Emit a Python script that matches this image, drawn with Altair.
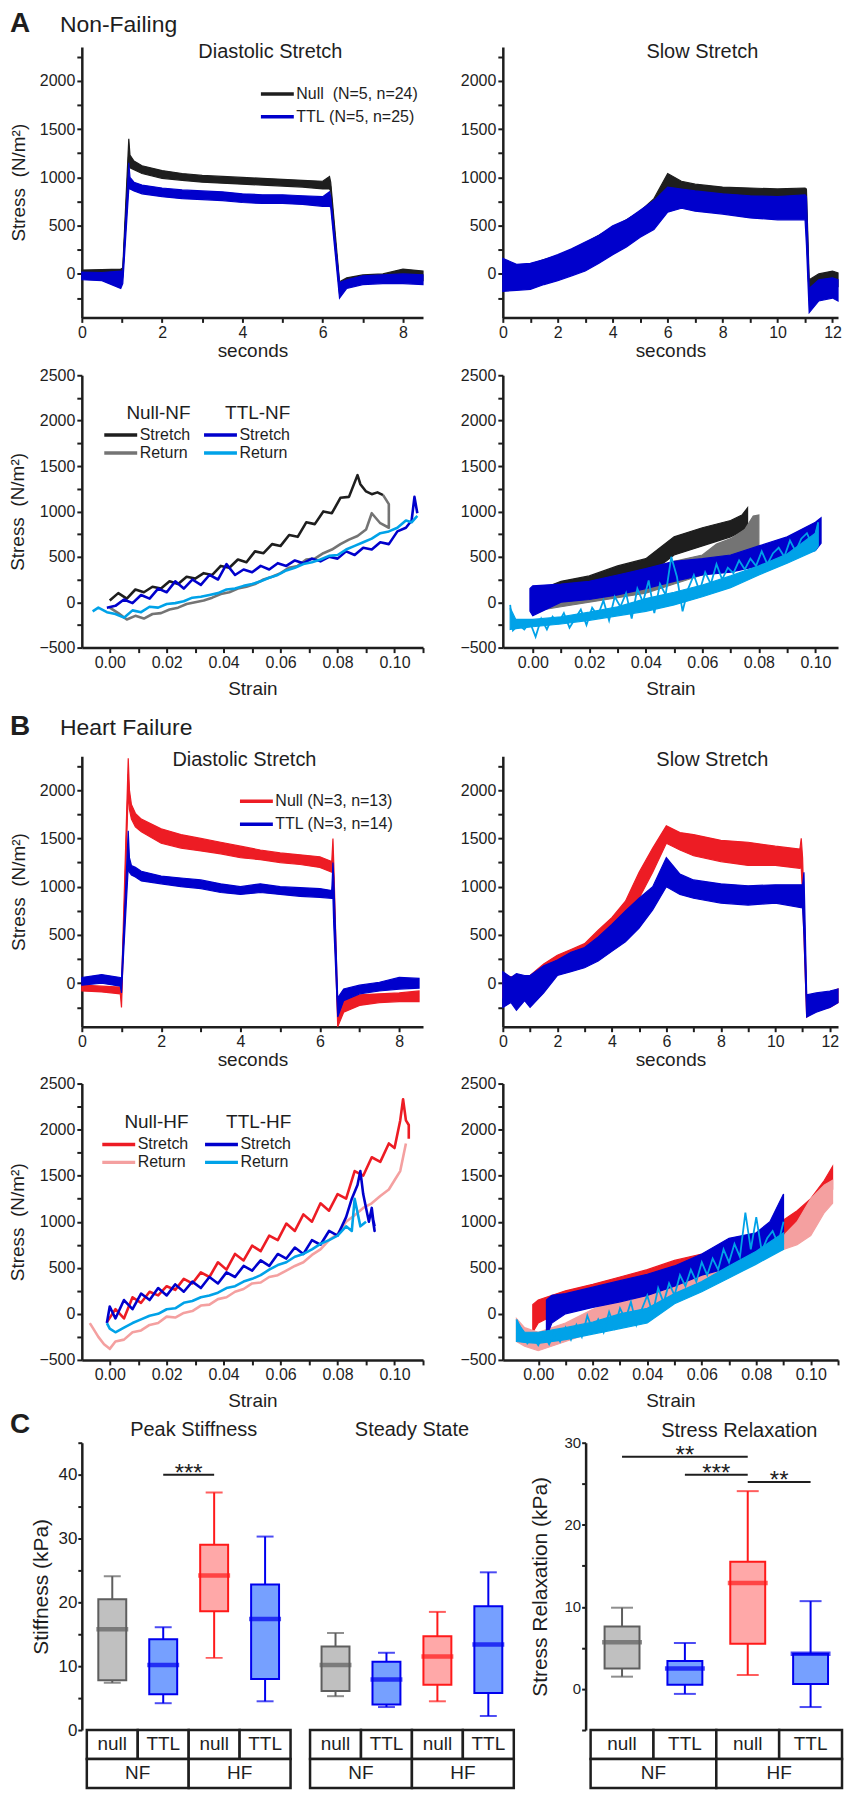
import altair as alt
import pandas as pd

FONT = "Liberation Sans"
INK = "#1e1e1e"
GREY_RET = "#747474"
BLUE = "#0000cc"
LBLUE = "#00a2e8"
RED = "#ed1c24"
PINK = "#f4a0a0"

# ================= DATA =================
# ---- A: Non-Failing, diastolic stretch: stress vs time (noise envelope lo/hi) ----
A_dia_t = [0, 0.5, 0.97, 1.02, 1.17, 1.2, 1.3, 1.5, 2, 2.5, 3, 3.5, 4, 4.5, 5, 5.5, 6, 6.17, 6.2, 6.42, 6.6, 7, 7.5, 8, 8.5]
A_dia_null_lo = [-20, -30, -20, -10, 1150, 1100, 1080, 1040, 990, 970, 950, 940, 930, 920, 910, 900, 880, 880, 860, -200, -120, -90, -80, -60, -70]
A_dia_null_hi = [40, 45, 50, 60, 1400, 1230, 1170, 1120, 1070, 1040, 1020, 1010, 1000, 990, 980, 970, 960, 1010, 950, -80, -40, -10, 0, 50, 30]
A_dia_ttl_lo = [-60, -70, -150, -100, 880, 880, 860, 830, 800, 780, 770, 760, 740, 730, 730, 720, 700, 700, 690, -250, -150, -110, -100, -100, -110]
A_dia_ttl_hi = [20, 15, 30, 30, 1150, 1000, 950, 920, 890, 870, 860, 850, 830, 820, 820, 810, 800, 850, 800, -90, -60, -20, -10, 0, -10]

# ---- A: Non-Failing, slow stretch: stress vs time ----
A_slow_t = [0, 0.5, 1, 1.5, 2, 2.5, 3, 3.5, 4, 4.5, 5, 5.5, 6, 6.5, 7, 8, 9, 10, 11, 11.05, 11.15, 11.5, 12, 12.2]
A_slow_null_lo = [-80, -70, -60, -30, 0, 50, 100, 180, 270, 350, 450, 560, 700, 820, 800, 780, 770, 770, 770, 500, -250, -150, -120, -130]
A_slow_null_hi = [100, 90, 100, 150, 190, 250, 320, 400, 480, 560, 650, 780, 1040, 960, 930, 900, 890, 880, 890, 880, -60, 0, 30, 10]
A_slow_ttl_lo = [-180, -170, -160, -110, -70, -20, 30, 110, 200, 280, 380, 460, 640, 680, 650, 620, 580, 560, 560, 300, -400, -280, -250, -280]
A_slow_ttl_hi = [160, 100, 110, 150, 200, 260, 330, 400, 500, 560, 660, 760, 900, 880, 860, 830, 810, 800, 820, 800, -150, -60, -40, -60]

# ---- A: Non-Failing, diastolic stretch loops: stress vs strain ----
A_loop_null_s_x = [0.0, 0.003, 0.006, 0.009, 0.012, 0.015, 0.018, 0.021, 0.024, 0.027, 0.030, 0.033, 0.036, 0.039, 0.042, 0.045, 0.048, 0.051, 0.054, 0.057, 0.060, 0.063, 0.066, 0.069, 0.072, 0.075, 0.078, 0.081, 0.084, 0.087, 0.088, 0.090, 0.092, 0.094, 0.096]
A_loop_null_s_y = [20, 100, 40, 140, 110, 170, 150, 230, 200, 280, 260, 320, 300, 400, 380, 470, 440, 560, 540, 640, 620, 740, 720, 880, 860, 1000, 980, 1150, 1160, 1400, 1300, 1220, 1190, 1210, 1180]
A_loop_null_r_x = [0.096, 0.098, 0.098, 0.095, 0.092, 0.090, 0.087, 0.084, 0.081, 0.078, 0.075, 0.072, 0.069, 0.066, 0.063, 0.060, 0.057, 0.054, 0.051, 0.048, 0.045, 0.042, 0.039, 0.036, 0.033, 0.030, 0.027, 0.024, 0.021, 0.018, 0.015, 0.012, 0.009, 0.006, 0.003, 0.0]
A_loop_null_r_y = [1180, 1080, 820, 870, 980, 800, 730, 690, 640, 580, 540, 480, 470, 400, 380, 320, 280, 250, 200, 170, 150, 110, 90, 50, 20, 0, -20, -60, -80, -120, -130, -180, -150, -190, -120, -60]
A_loop_ttl_s_x = [-0.001, 0.002, 0.005, 0.008, 0.011, 0.014, 0.017, 0.020, 0.023, 0.026, 0.029, 0.032, 0.035, 0.038, 0.041, 0.044, 0.047, 0.050, 0.053, 0.056, 0.059, 0.062, 0.065, 0.068, 0.071, 0.074, 0.077, 0.080, 0.083, 0.086, 0.089, 0.092, 0.095, 0.098, 0.101, 0.104, 0.106, 0.107, 0.108]
A_loop_ttl_s_y = [-60, -40, 30, -10, 80, 40, 150, 110, 230, 150, 250, 190, 300, 250, 420, 300, 360, 330, 400, 360, 430, 400, 460, 430, 480, 450, 500, 480, 560, 520, 600, 580, 660, 640, 780, 820, 900, 1160, 980]
A_loop_ttl_r_x = [0.108, 0.106, 0.104, 0.101, 0.098, 0.095, 0.092, 0.089, 0.086, 0.083, 0.080, 0.077, 0.074, 0.071, 0.068, 0.065, 0.062, 0.059, 0.056, 0.053, 0.050, 0.047, 0.044, 0.041, 0.038, 0.035, 0.032, 0.029, 0.026, 0.023, 0.020, 0.017, 0.014, 0.011, 0.008, 0.005, 0.002, -0.001, -0.004, -0.006]
A_loop_ttl_r_y = [950, 880, 900, 820, 780, 760, 700, 660, 620, 580, 520, 510, 470, 440, 420, 380, 350, 300, 270, 230, 200, 180, 150, 140, 100, 80, 60, 50, 10, -10, -20, -60, -50, -110, -90, -170, -130, -110, -60, -100]

# ---- A: Non-Failing, slow stretch loops: stress vs strain ----
A_sl_null_s_x = [0.0, 0.005, 0.01, 0.02, 0.03, 0.04, 0.045, 0.05, 0.06, 0.07, 0.074, 0.076]
A_sl_null_s_lo = [-120, 0, 60, 120, 180, 260, 400, 520, 620, 720, 780, 850]
A_sl_null_s_hi = [160, 170, 230, 290, 400, 480, 600, 720, 820, 900, 960, 1040]
A_sl_null_r_x = [0.0, 0.01, 0.02, 0.03, 0.04, 0.05, 0.06, 0.065, 0.07, 0.075, 0.078, 0.08]
A_sl_null_r_lo = [-100, -50, 0, 50, 100, 200, 300, 350, 420, 500, 580, 600]
A_sl_null_r_hi = [100, 150, 200, 250, 350, 450, 520, 640, 700, 800, 950, 960]
A_sl_ttl_s_x = [-0.001, 0.0, 0.01, 0.02, 0.03, 0.04, 0.05, 0.06, 0.07, 0.08, 0.09, 0.1, 0.102]
A_sl_ttl_s_lo = [-100, -150, 0, 30, 80, 150, 230, 300, 330, 400, 480, 570, 650]
A_sl_ttl_s_hi = [150, 180, 200, 230, 300, 370, 450, 480, 520, 620, 720, 880, 930]
A_sl_ttl_r_x = [-0.008, -0.006, 0.0, 0.01, 0.02, 0.03, 0.04, 0.05, 0.06, 0.07, 0.08, 0.09, 0.1, 0.101]
A_sl_ttl_r_lo = [-300, -290, -270, -240, -200, -150, -100, -30, 60, 160, 300, 430, 570, 620]
A_sl_ttl_r_hi = [-60, -190, -190, -160, -110, -50, 40, 110, 190, 290, 400, 530, 760, 860]
A_sl_ttl_rj_x = [0.101, 0.099, 0.097, 0.095, 0.093, 0.091, 0.089, 0.087, 0.085, 0.083, 0.081, 0.079, 0.077, 0.075, 0.073, 0.071, 0.069, 0.067, 0.065, 0.063, 0.061, 0.059, 0.057, 0.055, 0.053, 0.051, 0.049, 0.047, 0.045, 0.043, 0.041, 0.039, 0.037, 0.035, 0.033, 0.031, 0.029, 0.027, 0.025, 0.023, 0.021, 0.019, 0.017, 0.015, 0.013, 0.011, 0.009, 0.007, 0.005, 0.003, 0.001, -0.001, -0.003, -0.005, -0.007, -0.008]
A_sl_ttl_rj_y = [880, 620, 760, 700, 560, 680, 500, 600, 540, 420, 560, 400, 480, 360, 460, 320, 380, 250, 420, 200, 330, 120, 300, 150, -100, 280, 500, 80, 200, -120, 240, 0, 150, -180, 100, -50, 60, -200, 20, -150, -60, -250, -80, -180, -280, -120, -230, -160, -300, -180, -380, -220, -300, -250, -310, -30]

# ---- B: Heart Failure, diastolic stretch: stress vs time ----
B_dia_t = [0, 0.5, 0.97, 1.0, 1.17, 1.2, 1.25, 1.35, 1.5, 2, 2.5, 3, 3.5, 4, 4.5, 5, 5.5, 6, 6.3, 6.33, 6.35, 6.45, 6.6, 7, 7.5, 8, 8.5]
B_dia_null_lo = [-80, -90, -110, -250, 2000, 1800, 1700, 1620, 1570, 1450, 1400, 1370, 1340, 1300, 1280, 1250, 1230, 1200, 1150, 1150, 900, -450, -300, -230, -200, -190, -190]
B_dia_null_hi = [-20, -30, -40, -40, 2330, 2000, 1850, 1760, 1700, 1600, 1540, 1500, 1460, 1420, 1380, 1350, 1330, 1310, 1260, 1500, 1250, -250, -180, -120, -110, -100, -80]
B_dia_ttl_lo = [-20, 0, -30, -100, 1200, 1150, 1120, 1100, 1060, 1030, 1000, 980, 940, 920, 940, 920, 900, 890, 880, 880, 600, -350, -180, -110, -80, -60, -50]
B_dia_ttl_hi = [60, 90, 60, 50, 1580, 1300, 1220, 1200, 1160, 1110, 1090, 1070, 1030, 1000, 1030, 1000, 990, 980, 960, 1250, 1100, -150, -60, -20, 10, 60, 50]

# ---- B: Heart Failure, slow stretch: stress vs time ----
B_slow_null_t = [0, 0.5, 1, 1.5, 2, 2.5, 3, 3.5, 4, 4.5, 5, 5.5, 6, 6.5, 7, 8, 9, 10, 10.9, 10.95, 11.0, 11.15, 11.5, 12, 12.3]
B_slow_null_lo = [-150, -120, -100, -20, 170, 220, 270, 380, 470, 650, 880, 1150, 1450, 1380, 1320, 1260, 1220, 1220, 1190, 1200, 900, -350, -280, -250, -200]
B_slow_null_hi = [80, 60, 80, 200, 290, 350, 410, 550, 680, 850, 1150, 1400, 1630, 1560, 1540, 1480, 1460, 1420, 1390, 1500, 1300, -150, -130, -100, -60]
B_slow_ttl_t = [0, 0.3, 0.5, 0.8, 1, 1.5, 2, 2.5, 3, 3.5, 4, 4.5, 5, 5.5, 6, 6.5, 7, 8, 9, 10, 11, 11.05, 11.15, 11.5, 12, 12.3]
B_slow_ttl_lo = [-250, -200, -280, -180, -250, -100, 80, 120, 160, 230, 330, 430, 570, 760, 1000, 920, 880, 830, 810, 830, 780, 500, -350, -300, -250, -200]
B_slow_ttl_hi = [120, 60, 100, 80, 80, 180, 240, 320, 370, 480, 610, 750, 880, 1000, 1300, 1130, 1070, 1030, 1010, 1020, 1020, 1150, -120, -100, -80, -60]

# ---- B: Heart Failure, diastolic stretch loops: stress vs strain ----
B_loop_null_s_x = [-0.001, 0.002, 0.005, 0.008, 0.011, 0.014, 0.017, 0.020, 0.023, 0.026, 0.029, 0.032, 0.035, 0.038, 0.041, 0.044, 0.047, 0.050, 0.053, 0.056, 0.059, 0.062, 0.065, 0.068, 0.071, 0.074, 0.077, 0.080, 0.083, 0.086, 0.089, 0.092, 0.095, 0.098, 0.100, 0.102, 0.103, 0.104, 0.105, 0.105]
B_loop_null_s_y = [-90, 50, -50, 180, 120, 240, 200, 300, 260, 380, 330, 450, 400, 560, 480, 650, 580, 740, 680, 850, 800, 980, 900, 1080, 1000, 1200, 1120, 1300, 1250, 1550, 1500, 1700, 1650, 1850, 1800, 2100, 2330, 2100, 2050, 1900]
B_loop_null_r_x = [0.104, 0.103, 0.102, 0.100, 0.098, 0.095, 0.092, 0.089, 0.086, 0.083, 0.080, 0.077, 0.074, 0.071, 0.068, 0.065, 0.062, 0.059, 0.056, 0.053, 0.050, 0.047, 0.044, 0.041, 0.038, 0.035, 0.032, 0.029, 0.026, 0.023, 0.020, 0.017, 0.014, 0.011, 0.008, 0.005, 0.002, 0.000, -0.002, -0.004, -0.006, -0.007]
B_loop_null_r_y = [1850, 1700, 1550, 1450, 1350, 1280, 1200, 1150, 1070, 1000, 870, 800, 700, 640, 560, 520, 470, 420, 400, 340, 330, 270, 240, 180, 160, 100, 90, 30, 10, -40, -30, -100, -120, -180, -200, -280, -300, -380, -330, -250, -150, -100]
B_loop_ttl_s_x = [-0.001, 0.000, 0.002, 0.005, 0.008, 0.011, 0.014, 0.017, 0.020, 0.023, 0.026, 0.029, 0.032, 0.035, 0.038, 0.041, 0.044, 0.047, 0.050, 0.053, 0.056, 0.059, 0.062, 0.065, 0.068, 0.071, 0.074, 0.077, 0.080, 0.083, 0.085, 0.087, 0.088, 0.089, 0.090, 0.091, 0.092, 0.093, 0.092, 0.093]
B_loop_ttl_s_y = [-100, 80, -50, 150, 50, 220, 150, 280, 200, 320, 240, 350, 280, 400, 330, 450, 400, 520, 470, 580, 520, 650, 600, 720, 650, 800, 750, 900, 850, 1050, 1250, 1400, 1550, 1300, 1150, 1000, 1150, 900, 1100, 950]
B_loop_ttl_r_x = [0.090, 0.088, 0.086, 0.085, 0.083, 0.080, 0.077, 0.074, 0.071, 0.068, 0.065, 0.062, 0.059, 0.056, 0.053, 0.050, 0.047, 0.044, 0.041, 0.038, 0.035, 0.032, 0.029, 0.026, 0.023, 0.020, 0.017, 0.014, 0.011, 0.008, 0.005, 0.002, 0.000, -0.001]
B_loop_ttl_r_y = [1000, 950, 1250, 900, 950, 850, 800, 760, 700, 650, 620, 560, 530, 480, 420, 380, 350, 300, 280, 230, 200, 180, 140, 120, 60, 50, 0, -20, -60, -100, -150, -200, -160, -100]

# ---- B: Heart Failure, slow stretch loops: stress vs strain ----
B_sl_null_s_x = [-0.002, 0.0, 0.01, 0.02, 0.03, 0.04, 0.05, 0.06, 0.07, 0.08, 0.09, 0.095, 0.1, 0.105, 0.108]
B_sl_null_s_lo = [-200, -100, 50, 100, 200, 280, 380, 450, 530, 650, 800, 950, 1050, 1250, 1350]
B_sl_null_s_hi = [100, 150, 250, 320, 400, 480, 580, 650, 730, 830, 1020, 1120, 1250, 1450, 1600]
B_sl_null_r_x = [-0.008, -0.005, 0.0, 0.01, 0.02, 0.03, 0.04, 0.05, 0.06, 0.07, 0.08, 0.085, 0.09, 0.095, 0.1, 0.105, 0.108]
B_sl_null_r_lo = [-300, -350, -400, -300, -200, -100, 50, 200, 350, 450, 600, 650, 700, 750, 850, 1100, 1200]
B_sl_null_r_hi = [-50, -150, -200, -100, 50, 150, 300, 500, 600, 700, 750, 800, 850, 1000, 1250, 1400, 1450]
B_sl_ttl_s_x = [0.003, 0.005, 0.01, 0.02, 0.03, 0.04, 0.05, 0.06, 0.07, 0.08, 0.085, 0.09]
B_sl_ttl_s_lo = [-250, -100, 0, 70, 130, 200, 300, 420, 500, 620, 750, 860]
B_sl_ttl_s_hi = [150, 200, 220, 290, 360, 430, 520, 650, 820, 880, 1000, 1300]
B_sl_ttl_r_x = [-0.008, -0.005, 0.0, 0.01, 0.02, 0.03, 0.04, 0.05, 0.06, 0.07, 0.08, 0.09]
B_sl_ttl_r_lo = [-300, -310, -320, -280, -220, -160, -100, 110, 240, 390, 540, 700]
B_sl_ttl_r_hi = [-80, -200, -200, -150, -90, 0, 60, 220, 350, 520, 680, 880]
B_sl_ttl_rj_x = [0.090, 0.088, 0.086, 0.084, 0.082, 0.080, 0.078, 0.076, 0.074, 0.072, 0.070, 0.068, 0.066, 0.064, 0.062, 0.060, 0.058, 0.056, 0.054, 0.052, 0.050, 0.048, 0.046, 0.044, 0.042, 0.040, 0.038, 0.036, 0.034, 0.032, 0.030, 0.028, 0.026, 0.024, 0.022, 0.020, 0.018, 0.016, 0.014, 0.012, 0.010, 0.008, 0.006, 0.004, 0.002, 0.000, -0.002, -0.004, -0.006, -0.008]
B_sl_ttl_rj_y = [1000, 760, 900, 820, 680, 1050, 700, 1100, 620, 760, 560, 700, 480, 600, 420, 560, 350, 480, 300, 420, 200, 330, 120, 280, 0, 200, 50, -120, 130, -60, 60, -150, 20, -200, -60, -180, -20, -250, -120, -280, -150, -300, -200, -330, -220, -340, -250, -320, -180, -60]

# ---- C: box plots (kPa) ----
C_groups = ["null", "TTL", "null", "TTL"]
C_conds = ["NF", "HF"]
C_keys = ["NF null", "NF TTL", "HF null", "HF TTL"]
C_fill = ["#c0c0c0", "#76a0ff", "#ffa8a8", "#76a0ff"]
C_stroke = ["#5e5e5e", "#0000ee", "#ff1a1a", "#0000ee"]

peak_min = [7.4, 4.2, 11.3, 4.5]
peak_q1 = [7.8, 5.6, 18.6, 8.0]
peak_med = [15.8, 10.2, 24.2, 17.4]
peak_q3 = [20.5, 14.2, 29.0, 22.8]
peak_max = [24.1, 16.1, 37.2, 30.3]

steady_min = [5.3, 3.6, 4.5, 2.2]
steady_q1 = [6.1, 4.0, 7.1, 5.8]
steady_med = [10.2, 7.9, 11.5, 13.4]
steady_q3 = [13.1, 10.7, 14.7, 19.4]
steady_max = [15.2, 12.1, 18.5, 24.7]

relax_min = [1.5, -0.6, 1.7, -2.2]
relax_q1 = [2.5, 0.5, 5.5, 0.6]
relax_med = [5.7, 2.5, 12.9, 4.3]
relax_q3 = [7.6, 3.4, 15.5, 4.3]
relax_max = [9.9, 5.6, 24.1, 10.7]

peak_sig_from = [2]
peak_sig_to = [3]
peak_sig_y = [40]
peak_sig_txt = ["***"]
relax_sig_from = [1, 2, 3]
relax_sig_to = [3, 3, 4]
relax_sig_y = [28.3, 26.1, 25.2]
relax_sig_txt = ["**", "***", "**"]

# ================= LAYOUT CONSTANTS =================
WL, WR, HSP = 342, 336, 80
H1, H2, H3, H4 = 271, 273, 271, 277
HC, TABLE_H = 288, 58
C12_W, C3_W = 438, 262
C_UNIT = 52.25
C_GAP = 20
IND = dict(color="independent", fill="independent", stroke="independent")
LEG_SYMBOL = "M-2,0L2,0"   # long horizontal stroke as legend swatch


def strain_vals(lo, hi):
    base = [0.0, 0.01, 0.02, 0.03, 0.04, 0.05, 0.06, 0.07, 0.08, 0.09, 0.10, 0.11]
    return [v for v in base if lo - 1e-9 <= v <= hi + 1e-9]


def x_time_axis(n):
    return alt.Axis(values=list(range(0, n + 1)), format="d", title="seconds", titlePadding=1,
                    labelExpr="datum.value % 2 === 0 ? datum.label : ''")


def x_strain_axis(dom):
    return alt.Axis(values=strain_vals(*dom), title="Strain", titlePadding=9,
                    labelExpr="round(datum.value * 100) % 2 === 0 ? format(datum.value, '.2f') : ''")


def y_stress_axis(vals, title):
    kw = dict(values=vals, format="d", labelExpr="datum.value % 500 === 0 ? datum.label : ''")
    if title:
        return alt.Axis(title=title, **kw)
    return alt.Axis(title=None, **kw)


def band(x, lo, hi, color, xs, ys, xa, ya):
    df = pd.DataFrame({"x": x, "lo": lo, "hi": hi})
    return alt.Chart(df).mark_area(color=color, stroke=color, strokeWidth=1.2, opacity=1).encode(
        x=alt.X("x:Q", scale=xs, axis=xa),
        y=alt.Y("lo:Q", scale=ys, axis=ya),
        y2=alt.Y2("hi:Q"))


def jag(x, y, color, xs, ys, xa, ya, width=1.8):
    df = pd.DataFrame({"x": x, "y": y, "o": list(range(len(x)))})
    return alt.Chart(df).mark_line(color=color, strokeWidth=width).encode(
        x=alt.X("x:Q", scale=xs, axis=xa),
        y=alt.Y("y:Q", scale=ys, axis=ya),
        order=alt.Order("o:Q"))


def heading(letter, word, y):
    df = pd.DataFrame({"t": [letter], "w": [word]})
    out = [alt.Chart(df).mark_text(align="left", baseline="alphabetic", font=FONT, fontSize=28,
                                   fontWeight="bold", color=INK).encode(
        x=alt.value(-72), y=alt.value(y), text="t:N")]
    if word:
        out.append(alt.Chart(df).mark_text(align="left", baseline="alphabetic", font=FONT, fontSize=23,
                                           color=INK).encode(
            x=alt.value(-22), y=alt.value(y), text="w:N"))
    return out


def title_text(text, xpix, ypix):
    df = pd.DataFrame({"t": [text]})
    return alt.Chart(df).mark_text(align="center", baseline="alphabetic", font=FONT, fontSize=20,
                                   color=INK).encode(x=alt.value(xpix), y=alt.value(ypix), text="t:N")


def time_panel(series, xdom, nt, width, height, title, tdx, tdy, ytitle, legend_xy, extra=None):
    xs = alt.Scale(domain=xdom, nice=False, zero=False)
    ys = alt.Scale(domain=[-450, 2350], nice=False, zero=False)
    xa = x_time_axis(nt)
    ya = y_stress_axis(list(range(-250, 2251, 250)), ytitle)
    frames = []
    for lab, x, lo, hi, col in series:
        frames.append(pd.DataFrame({"x": x, "y": [(a + b) / 2 for a, b in zip(lo, hi)], "s": lab}))
    if legend_xy:
        leg = alt.Legend(orient="none", legendX=legend_xy[0], legendY=legend_xy[1], title=None,
                         symbolType=LEG_SYMBOL, symbolSize=272, symbolStrokeWidth=3.5,
                         labelFontSize=16, rowPadding=5, labelOffset=9)
    else:
        leg = None
    layers = [alt.Chart(pd.concat(frames)).mark_line(strokeWidth=1).encode(
        x=alt.X("x:Q", scale=xs, axis=xa),
        y=alt.Y("y:Q", scale=ys, axis=ya),
        color=alt.Color("s:N", scale=alt.Scale(domain=[s[0] for s in series], range=[s[4] for s in series]),
                        legend=leg))]
    for lab, x, lo, hi, col in series:
        layers.append(band(x, lo, hi, col, xs, ys, xa, ya))
    layers.append(title_text(title, width / 2 + tdx, tdy))
    if extra:
        layers += extra
    return alt.layer(*layers).properties(width=width, height=height)


def loop_panel(null_parts, ttl_parts, null_cols, ttl_cols, null_title, ttl_title, xdom, width, height,
               ytitle, leg1, leg2):
    xs = alt.Scale(domain=xdom, nice=False, zero=False)
    ys = alt.Scale(domain=[-500, 2500], nice=False, zero=False)
    xa = x_strain_axis(xdom)
    ya = y_stress_axis(list(range(-500, 2501, 250)), ytitle)

    def lay(parts, cols, title, xy):
        frames = [pd.DataFrame({"x": x, "y": y, "part": p, "o": list(range(len(x)))}) for p, x, y in parts]
        leg = alt.Legend(orient="none", legendX=xy[0], legendY=xy[1], title=title, titleAnchor="end",
                         titleFontSize=19, titleFontWeight="normal", titlePadding=2,
                         symbolType=LEG_SYMBOL, symbolSize=272, symbolStrokeWidth=3.5,
                         labelFontSize=16, rowPadding=0, labelOffset=9)
        return alt.Chart(pd.concat(frames)).mark_line(strokeWidth=2.6, strokeJoin="round").encode(
            x=alt.X("x:Q", scale=xs, axis=xa),
            y=alt.Y("y:Q", scale=ys, axis=ya),
            color=alt.Color("part:N", scale=alt.Scale(domain=["Stretch", "Return"], range=cols), legend=leg),
            order=alt.Order("o:Q"))

    return alt.layer(lay(null_parts, null_cols, null_title, leg1),
                     lay(ttl_parts, ttl_cols, ttl_title, leg2)).resolve_scale(color="independent").properties(
        width=width, height=height)


def slow_loop_panel(bands, jag_x, jag_y, jag_col, xdom, width, height):
    xs = alt.Scale(domain=xdom, nice=False, zero=False)
    ys = alt.Scale(domain=[-500, 2500], nice=False, zero=False)
    xa = x_strain_axis(xdom)
    ya = y_stress_axis(list(range(-500, 2501, 250)), None)
    layers = [band(x, lo, hi, c, xs, ys, xa, ya) for x, lo, hi, c in bands]
    layers.append(jag(jag_x, jag_y, jag_col, xs, ys, xa, ya))
    return alt.layer(*layers).properties(width=width, height=height)


def box_layers(offset, mn, q1, med, q3, mx, xs, ys, ya, bw, capw, medw):
    df = pd.DataFrame({"pos": [i + 1 + offset for i in range(4)], "k": C_keys,
                       "mn": mn, "q1": q1, "med": med, "q3": q3, "mx": mx})
    X = alt.X("pos:Q", scale=xs, axis=None)
    col = alt.Color("k:N", scale=alt.Scale(domain=C_keys, range=C_stroke), legend=None)
    base = alt.Chart(df)
    return [
        base.mark_rule(strokeWidth=2).encode(x=X, y=alt.Y("mn:Q", scale=ys, axis=ya), y2="mx:Q", color=col),
        base.mark_tick(orient="horizontal", size=capw, thickness=2).encode(
            x=X, y=alt.Y("mn:Q", scale=ys, axis=ya), color=col),
        base.mark_tick(orient="horizontal", size=capw, thickness=2).encode(
            x=X, y=alt.Y("mx:Q", scale=ys, axis=ya), color=col),
        base.mark_bar(size=bw, strokeWidth=2).encode(
            x=X, y=alt.Y("q1:Q", scale=ys, axis=ya), y2="q3:Q",
            fill=alt.Fill("k:N", scale=alt.Scale(domain=C_keys, range=C_fill), legend=None),
            stroke=alt.Stroke("k:N", scale=alt.Scale(domain=C_keys, range=C_stroke), legend=None)),
        base.mark_tick(orient="horizontal", size=medw, thickness=4.5).encode(
            x=X, y=alt.Y("med:Q", scale=ys, axis=ya), color=col),
    ]


def sig_layers(frm, to, yv, txt, xs, ys, ya):
    df = pd.DataFrame({"x1": frm, "x2": to, "y": yv, "t": txt})
    rule = alt.Chart(df).mark_rule(strokeWidth=2, color=INK).encode(
        x=alt.X("x1:Q", scale=xs, axis=None), x2="x2:Q", y=alt.Y("y:Q", scale=ys, axis=ya))
    text = alt.Chart(df).transform_calculate(xm="(datum.x1 + datum.x2) / 2").mark_text(
        font=FONT, fontSize=24, baseline="alphabetic", dy=6, color=INK).encode(
        x=alt.X("xm:Q", scale=xs, axis=None), y=alt.Y("y:Q", scale=ys, axis=ya), text="t:N")
    return [rule, text]


def table_layer(offsets, xs):
    rows = []
    for off in offsets:
        for i, g in enumerate(C_groups):
            rows.append({"x1": i + 0.5 + off, "x2": i + 1.5 + off, "y1": 1, "y2": 2, "lab": g})
        for j, c in enumerate(C_conds):
            rows.append({"x1": 2 * j + 0.5 + off, "x2": 2 * j + 2.5 + off, "y1": 0, "y2": 1, "lab": c})
    df = pd.DataFrame(rows)
    df["xc"] = (df["x1"] + df["x2"]) / 2
    df["yc"] = (df["y1"] + df["y2"]) / 2
    tys = alt.Scale(domain=[2, 2 + 2 * HC / TABLE_H], nice=False, zero=False)
    rect = alt.Chart(df).mark_rect(fill="white", stroke=INK, strokeWidth=2.5).encode(
        x=alt.X("x1:Q", scale=xs, axis=None), x2="x2:Q",
        y=alt.Y("y1:Q", scale=tys, axis=None), y2="y2:Q")
    text = alt.Chart(df).mark_text(font=FONT, fontSize=19, baseline="middle", color=INK).encode(
        x=alt.X("xc:Q", scale=xs, axis=None), y=alt.Y("yc:Q", scale=tys, axis=None), text="lab:N")
    return alt.layer(rect, text)


def spacer(h):
    return alt.Chart(pd.DataFrame({"v": [0]})).mark_point(opacity=0).properties(width=1, height=h)


# ================= PANELS =================
STRESS_T = "Stress\u00a0\u00a0(N/m\u00b2)"
A_TL = time_panel(
    [("Null\u00a0\u00a0(N=5, n=24)", A_dia_t, A_dia_null_lo, A_dia_null_hi, INK),
     ("TTL\u00a0(N=5, n=25)", A_dia_t, A_dia_ttl_lo, A_dia_ttl_hi, BLUE)],
    [0, 8.5], 8, WL, H1, "Diastolic Stretch", 18, 11, STRESS_T, (186, 37),
    extra=heading("A", "Non-Failing", -15))
A_TR = time_panel(
    [("Null", A_slow_t, A_slow_null_lo, A_slow_null_hi, INK),
     ("TTL", A_slow_t, A_slow_ttl_lo, A_slow_ttl_hi, BLUE)],
    [0, 12.2], 12, WR, H1, "Slow Stretch", 32, 11, None, None)

A_BL = loop_panel(
    [("Stretch", A_loop_null_s_x, A_loop_null_s_y), ("Return", A_loop_null_r_x, A_loop_null_r_y)],
    [("Stretch", A_loop_ttl_s_x, A_loop_ttl_s_y), ("Return", A_loop_ttl_r_x, A_loop_ttl_r_y)],
    [INK, GREY_RET], [BLUE, LBLUE], "Null-NF", "TTL-NF", [-0.0098, 0.110], WL, H2,
    STRESS_T, (29, 29), (129, 29))
A_BR = slow_loop_panel(
    [(A_sl_null_s_x, A_sl_null_s_lo, A_sl_null_s_hi, INK),
     (A_sl_null_r_x, A_sl_null_r_lo, A_sl_null_r_hi, GREY_RET),
     (A_sl_ttl_s_x, A_sl_ttl_s_lo, A_sl_ttl_s_hi, BLUE),
     (A_sl_ttl_r_x, A_sl_ttl_r_lo, A_sl_ttl_r_hi, LBLUE)],
    A_sl_ttl_rj_x, A_sl_ttl_rj_y, LBLUE, [-0.0106, 0.108], WR, H2)

B_TL = time_panel(
    [("Null (N=3, n=13)", B_dia_t, B_dia_null_lo, B_dia_null_hi, RED),
     ("TTL (N=3, n=14)", B_dia_t, B_dia_ttl_lo, B_dia_ttl_hi, BLUE)],
    [0, 8.6], 8, WL, H3, "Diastolic Stretch", -8, 10, STRESS_T, (165, 35),
    extra=heading("B", "Heart Failure", -21))
B_TR = time_panel(
    [("Null", B_slow_null_t, B_slow_null_lo, B_slow_null_hi, RED),
     ("TTL", B_slow_ttl_t, B_slow_ttl_lo, B_slow_ttl_hi, BLUE)],
    [0, 12.3], 12, WR, H3, "Slow Stretch", 42, 10, None, None)

B_BL = loop_panel(
    [("Stretch", B_loop_null_s_x, B_loop_null_s_y), ("Return", B_loop_null_r_x, B_loop_null_r_y)],
    [("Stretch", B_loop_ttl_s_x, B_loop_ttl_s_y), ("Return", B_loop_ttl_r_x, B_loop_ttl_r_y)],
    [RED, PINK], [BLUE, LBLUE], "Null-HF", "TTL-HF", [-0.0098, 0.110], WL, H4,
    STRESS_T, (27, 30), (130, 30))
B_BR = slow_loop_panel(
    [(B_sl_null_s_x, B_sl_null_s_lo, B_sl_null_s_hi, RED),
     (B_sl_null_r_x, B_sl_null_r_lo, B_sl_null_r_hi, PINK),
     (B_sl_ttl_s_x, B_sl_ttl_s_lo, B_sl_ttl_s_hi, BLUE),
     (B_sl_ttl_r_x, B_sl_ttl_r_lo, B_sl_ttl_r_hi, LBLUE)],
    B_sl_ttl_rj_x, B_sl_ttl_rj_y, LBLUE, [-0.013, 0.110], WR, H4)

# ---- C: Peak stiffness + steady state (shared y scale) ----
OFF2 = 4 + C_GAP / C_UNIT
xs12 = alt.Scale(domain=[0.5, 4.5 + OFF2], nice=False, zero=False)
ys12 = alt.Scale(domain=[0, 45], nice=False, zero=False)
ya12 = alt.Axis(values=list(range(0, 46, 5)), title="Stiffness (kPa)", labelFontSize=17, titleFontSize=21,
                tickSize=4, labelPadding=1, titlePadding=6,
                labelExpr="datum.value % 10 === 0 ? datum.label : ''")
c12_titles = pd.DataFrame({"t": ["Peak Stiffness", "Steady State"], "xc": [2.6, 2.5 + OFF2]})
c12_layers = (box_layers(0, peak_min, peak_q1, peak_med, peak_q3, peak_max, xs12, ys12, ya12, 28, 17, 32)
              + box_layers(OFF2, steady_min, steady_q1, steady_med, steady_q3, steady_max, xs12, ys12, ya12, 28, 17, 32)
              + sig_layers(peak_sig_from, peak_sig_to, peak_sig_y, peak_sig_txt, xs12, ys12, ya12)
              + [alt.Chart(c12_titles).mark_text(font=FONT, fontSize=20, baseline="alphabetic", color=INK).encode(
                  x=alt.X("xc:Q", scale=xs12, axis=None), y=alt.value(-7), text="t:N")]
              + heading("C", "", -10))
C12 = alt.layer(alt.layer(*c12_layers), table_layer([0, OFF2], xs12)).resolve_scale(y="independent").properties(
    width=C12_W, height=HC)

xs3 = alt.Scale(domain=[0.5, 4.5], nice=False, zero=False)
ys3 = alt.Scale(domain=[-5, 30], nice=False, zero=False)
ya3 = alt.Axis(values=list(range(-5, 31, 5)), title="Stress Relaxation (kPa)", labelFontSize=15, titleFontSize=21,
               tickSize=4, labelPadding=1, titlePadding=14,
               labelExpr="datum.value % 10 === 0 ? datum.label : ''")
c3_layers = (box_layers(0, relax_min, relax_q1, relax_med, relax_q3, relax_max, xs3, ys3, ya3, 35, 22, 40)
             + sig_layers(relax_sig_from, relax_sig_to, relax_sig_y, relax_sig_txt, xs3, ys3, ya3)
             + [title_text("Stress Relaxation", C3_W / 2 + 23, -6)])
C3 = alt.layer(alt.layer(*c3_layers), table_layer([0], xs3)).resolve_scale(y="independent").properties(
    width=C3_W, height=HC)

row1 = alt.hconcat(A_TL, A_TR, spacing=HSP, bounds="flush").resolve_scale(**IND)
row2 = alt.hconcat(A_BL, A_BR, spacing=HSP, bounds="flush").resolve_scale(**IND)
row3 = alt.hconcat(B_TL, B_TR, spacing=HSP, bounds="flush").resolve_scale(**IND)
row4 = alt.hconcat(B_BL, B_BR, spacing=HSP, bounds="flush").resolve_scale(**IND)
row5 = alt.hconcat(C12, C3, spacing=67, bounds="flush").resolve_scale(**IND)

chart = alt.vconcat(row1, spacer(7), row2, spacer(15), row3, spacer(6), row4, row5,
                    spacing=0).resolve_scale(**IND).properties(
    padding={"left": 0, "top": 0, "right": 0, "bottom": 0})

chart = chart.configure(font=FONT).configure_view(strokeWidth=0).configure_axis(
    domainColor=INK, domainWidth=2.5, tickColor=INK, tickWidth=2, tickSize=5,
    labelFont=FONT, labelFontSize=16, labelColor=INK, titleFont=FONT, titleFontSize=19,
    titleFontWeight="normal", titleColor=INK, grid=False, labelPadding=2, labelOverlap=False,
    labelFlush=False).configure_axisY(titlePadding=11).configure_legend(
    labelFont=FONT, titleFont=FONT, labelColor=INK, titleColor=INK, padding=0)

chart.save("out.html", embed_options={"renderer": "svg", "actions": False})
